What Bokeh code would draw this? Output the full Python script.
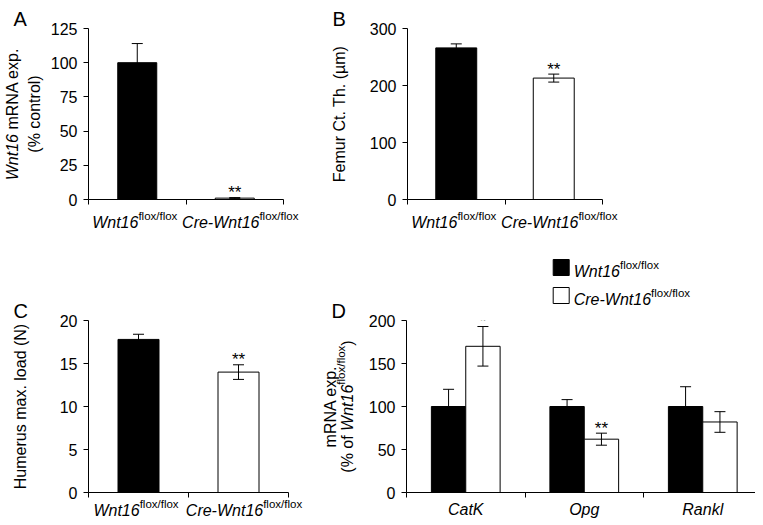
import math
from bokeh.plotting import figure
from bokeh.models import (Label, Whisker, TeeHead, ColumnDataSource, FixedTicker,
                          Range1d, BoxAnnotation)
from bokeh.layouts import gridplot, column
from bokeh.embed import file_html
from bokeh.resources import INLINE

# ---------------- data ----------------
genotypes = ["Wnt16", "Cre-Wnt16"]          # italic part of the genotype names
genotype_sup = "flox/flox"                  # superscript part
bar_colors = ["black", "white"]

a_mean = [100.0, 1.0]
a_err = [14.0, 0.4]
a_sig = ["", "**"]
a_ticks = [0, 25, 50, 75, 100, 125]

b_mean = [266.0, 213.0]
b_err = [7.0, 7.0]
b_sig = ["", "**"]
b_ticks = [0, 100, 200, 300]

c_mean = [17.8, 14.0]
c_err = [0.6, 0.85]
c_sig = ["", "**"]
c_ticks = [0, 5, 10, 15, 20]

d_genes = ["CatK", "Opg", "Rankl"]
d_ctrl_mean = [100.0, 100.0, 100.0]
d_ctrl_err = [20.0, 8.0, 23.0]
d_cko_mean = [170.0, 62.0, 82.0]
d_cko_err = [23.0, 7.0, 12.0]
d_cko_sig = ["*", "**", ""]
d_ticks = [0, 50, 100, 150, 200]

# ---------------- layout constants ----------------
FONT = "Liberation Sans"
FS = 16
SUP = 11.5
RISE = 6.6
FIX = 4.0                      # baseline correction for overlay labels (px)
COL_W = [312, 443]
ROW_H = [248, 269]
TOTAL_W = sum(COL_W)
OV_H = 522
GROUP_NUDGE = [-2.5, 5.5]     # horizontal nudge of the two genotype labels (px)

# panel geometry: (col, row, left, right, top, bottom, x-range, y-range)
GEO = {
    "A": (0, 0, 88, 29, 28, 49, (0, 2), (0, 125)),
    "B": (1, 0, 95, 153, 28, 49, (0, 2), (0, 300)),
    "C": (0, 1, 88, 24, 72, 25, (0, 2), (0, 20)),
    "D": (1, 1, 94, 0, 72, 25, (0, 2.945), (0, 200)),
}

_W = {' ': 278, '(': 333, ')': 333, '%': 889, '*': 389, '-': 333, '.': 278, '/': 278,
      'A': 667, 'C': 722, 'K': 667, 'N': 722, 'R': 722, 'W': 944,
      'a': 556, 'c': 500, 'e': 556, 'f': 278, 'g': 556, 'k': 500, 'l': 222, 'm': 833,
      'n': 556, 'o': 556, 'p': 556, 'r': 333, 't': 278, 'x': 500, 's': 500, 'u': 556}
for _d in "0123456789":
    _W[_d] = 556


def tw(s, size):
    return sum(_W.get(ch, 556) for ch in s) * size / 1000.0


def frame_box(key):
    c, r, left, right, top, bottom, xr, yr = GEO[key]
    x0 = sum(COL_W[:c]) + left
    y0 = sum(ROW_H[:r]) + top
    w = COL_W[c] - left - right
    h = ROW_H[r] - top - bottom
    return x0, y0, w, h


def to_page(key, x, y):
    """data coordinates of a panel -> overlay pixel coordinates (y down)."""
    x0, y0, w, h = frame_box(key)
    xr, yr = GEO[key][6], GEO[key][7]
    return (x0 + (x - xr[0]) / (xr[1] - xr[0]) * w,
            y0 + h - (y - yr[0]) / (yr[1] - yr[0]) * h)


# ---------------- overlay for texts outside the frames ----------------
ov = figure(width=TOTAL_W, height=OV_H, x_range=Range1d(0, TOTAL_W),
            y_range=Range1d(OV_H, 0), output_backend="svg", toolbar_location=None,
            x_axis_location=None, y_axis_location=None, min_border=0)
ov.styles = {"margin-top": f"-{sum(ROW_H)}px", "flex-shrink": "0"}
ov.grid.visible = False
ov.outline_line_color = None
ov.background_fill_alpha = 0
ov.border_fill_alpha = 0


def lab(p, **kw):
    kw.setdefault("text_font", FONT)
    kw.setdefault("text_color", "black")
    kw.setdefault("text_baseline", "alphabetic")
    kw.setdefault("text_align", "left")
    p.add_layout(Label(**kw))


def olab(x, y, angle=0.0, **kw):
    """overlay label with baseline correction."""
    if angle == 0:
        y = y - FIX
    else:
        x = x - FIX
    lab(ov, x=x, y=y, angle=angle, **kw)


def rich(px, py, parts, align="center", angle=0.0):
    """parts: (text, style, size, rise); (px, py) = anchor on baseline (overlay px)."""
    total = sum(tw(t, sz) for t, st, sz, r in parts)
    pos = {"center": -total / 2.0, "left": 0.0, "right": -total}[align]
    for t, st, sz, rise in parts:
        if angle == 0:
            x, y = px + pos, py - rise
        else:
            x, y = px - rise, py - pos
        olab(x, y, angle=angle, text=t, text_font_style=st, text_font_size=f"{sz}px")
        pos += tw(t, sz)


def genotype_parts(i):
    return [(genotypes[i], "italic", FS, 0), (genotype_sup, "normal", SUP, RISE)]


def panel_letter(key):
    x0, y0, w, h = frame_box(key)
    olab(x0 - 75, y0 - 6, text=key, text_font_size="20px")


# ---------------- panels ----------------
def make_panel(key, yticks, xticks):
    c, r, left, right, top, bottom, xr, yr = GEO[key]
    p = figure(width=COL_W[c], height=ROW_H[r], x_range=Range1d(*xr), y_range=Range1d(*yr),
               output_backend="svg", toolbar_location=None,
               min_border_left=left, min_border_right=right,
               min_border_top=top, min_border_bottom=bottom)
    p.grid.visible = False
    p.outline_line_color = None
    p.background_fill_color = "white"
    p.border_fill_color = "white"
    for ax in (p.xaxis[0], p.yaxis[0]):
        ax.axis_line_color = "black"
        ax.axis_line_width = 1
        ax.major_tick_line_color = "black"
        ax.major_tick_in = 0
        ax.major_tick_out = 5
        ax.minor_tick_line_color = None
        ax.major_label_text_font = FONT
        ax.major_label_text_color = "black"
    p.yaxis.ticker = FixedTicker(ticks=yticks)
    p.yaxis.major_label_text_font_size = f"{FS}px"
    p.yaxis.major_label_standoff = 6
    p.xaxis.ticker = FixedTicker(ticks=xticks)
    p.xaxis.major_label_overrides = {t: "" for t in xticks}
    p.xaxis.major_label_text_font_size = "0px"
    p.xaxis.major_label_standoff = 0
    panel_letter(key)
    return p


def plain_ylabel(p, text, standoff):
    p.yaxis.axis_label = text
    p.yaxis.axis_label_text_font = FONT
    p.yaxis.axis_label_text_font_size = f"{FS}px"
    p.yaxis.axis_label_text_font_style = "normal"
    p.yaxis.axis_label_text_color = "black"
    p.yaxis.axis_label_standoff = standoff


def add_whisker(p, src, xcol="x"):
    p.add_layout(Whisker(source=src, base=xcol, upper="upper", lower="lower",
                         dimension="height", line_color="black", line_width=1,
                         level="annotation",
                         upper_head=TeeHead(size=11, line_color="black", line_width=1),
                         lower_head=TeeHead(size=11, line_color="black", line_width=1)))


def sig_label(p, x, top, s):
    if s:
        lab(p, x=x, y=top, y_offset=5, text=s, text_font_size="17px", text_align="center")


def two_bar(key, p, mean, err, sig, width, label_depth):
    xs = [i + 0.5 for i in range(len(mean))]
    src = ColumnDataSource(dict(x=xs, top=mean, color=bar_colors[:len(mean)],
                                upper=[m + e for m, e in zip(mean, err)],
                                lower=[m - e for m, e in zip(mean, err)]))
    p.vbar(x="x", top="top", bottom=0, width=width, fill_color="color",
           line_color="black", line_width=1, source=src)
    add_whisker(p, src)
    for x, m, e, s in zip(xs, mean, err, sig):
        sig_label(p, x, m + e, s)
    for i in range(len(mean)):
        px, py = to_page(key, xs[i], 0)
        rich(px + GROUP_NUDGE[i], py + label_depth, genotype_parts(i))


xt2 = [0, 1, 2]

# A
pA = make_panel("A", a_ticks, xt2)
two_bar("A", pA, a_mean, a_err, a_sig, 0.40, 27)
ax0, ay0, aw, ah = frame_box("A")
rich(ax0 - 72.5, ay0 + ah / 2, [("Wnt16 ", "italic", FS, 0), ("mRNA exp.", "normal", FS, 0)],
     angle=math.pi / 2)
rich(ax0 - 50, ay0 + ah / 2, [("(% control)", "normal", FS, 0)], angle=math.pi / 2)

# B
pB = make_panel("B", b_ticks, xt2)
two_bar("B", pB, b_mean, b_err, b_sig, 0.42, 27)
plain_ylabel(pB, "Femur Ct. Th. (µm)", 19)

# C
pC = make_panel("C", c_ticks, xt2)
two_bar("C", pC, c_mean, c_err, c_sig, 0.41, 22)
plain_ylabel(pC, "Humerus max. load (N)", 28)

# D
xt3 = [0, 1, 2, 3]
pD = make_panel("D", d_ticks, xt3)
off = 0.145
bw = 0.29
cx = [i + 0.5 for i in range(len(d_genes))]
src_ctrl = ColumnDataSource(dict(x=[c - off for c in cx], top=d_ctrl_mean,
                                 upper=[m + e for m, e in zip(d_ctrl_mean, d_ctrl_err)],
                                 lower=[m - e for m, e in zip(d_ctrl_mean, d_ctrl_err)]))
src_cko = ColumnDataSource(dict(x=[c + off for c in cx], top=d_cko_mean,
                                upper=[m + e for m, e in zip(d_cko_mean, d_cko_err)],
                                lower=[m - e for m, e in zip(d_cko_mean, d_cko_err)]))
pD.vbar(x="x", top="top", bottom=0, width=bw, fill_color=bar_colors[0],
        line_color="black", line_width=1, source=src_ctrl)
pD.vbar(x="x", top="top", bottom=0, width=bw, fill_color=bar_colors[1],
        line_color="black", line_width=1, source=src_cko)
add_whisker(pD, src_ctrl)
add_whisker(pD, src_cko)
for c, m, e, s in zip(cx, d_cko_mean, d_cko_err, d_cko_sig):
    sig_label(pD, c + off, m + e, s)
for c, g in zip(cx, d_genes):
    px, py = to_page("D", c, 0)
    olab(px, py + 21, text=g, text_font_style="italic",
         text_font_size=f"{FS}px", text_align="center")
dx0, dy0, dw, dh = frame_box("D")
rich(dx0 - 72.5, dy0 + dh / 2, [("mRNA exp.", "normal", FS, 0)], angle=math.pi / 2)
rich(dx0 - 55, dy0 + dh / 2, [("(% of ", "normal", FS, 0), ("Wnt16", "italic", FS, 0),
                              (genotype_sup, "normal", SUP, RISE), (")", "normal", FS, 0)],
     angle=math.pi / 2)

# legend of panel D (key boxes + labels), in the top border of panel D
KEY = 16
LEG_DX, LEG_UP, LEG_STEP, LEG_GAP = 146.7, 61, 28, 4.5
for i, g in enumerate(genotypes):
    kx = dx0 + LEG_DX
    ky = dy0 - LEG_UP + i * LEG_STEP
    ov.add_layout(BoxAnnotation(left=kx, right=kx + KEY, top=ky, bottom=ky + KEY,
                                fill_color=bar_colors[i], fill_alpha=1,
                                line_color="black", line_alpha=1, line_width=1))
    rich(kx + KEY + LEG_GAP, ky + KEY, genotype_parts(i), align="left")

g_top = gridplot([[pA, pB]], toolbar_location=None)
g_bot = gridplot([[pC, pD]], toolbar_location=None)
g_top.styles = {"flex-shrink": "0"}
g_bot.styles = {"flex-shrink": "0"}
page = column(g_top, g_bot, ov)
open("out.html", "w").write(file_html(page, INLINE))
